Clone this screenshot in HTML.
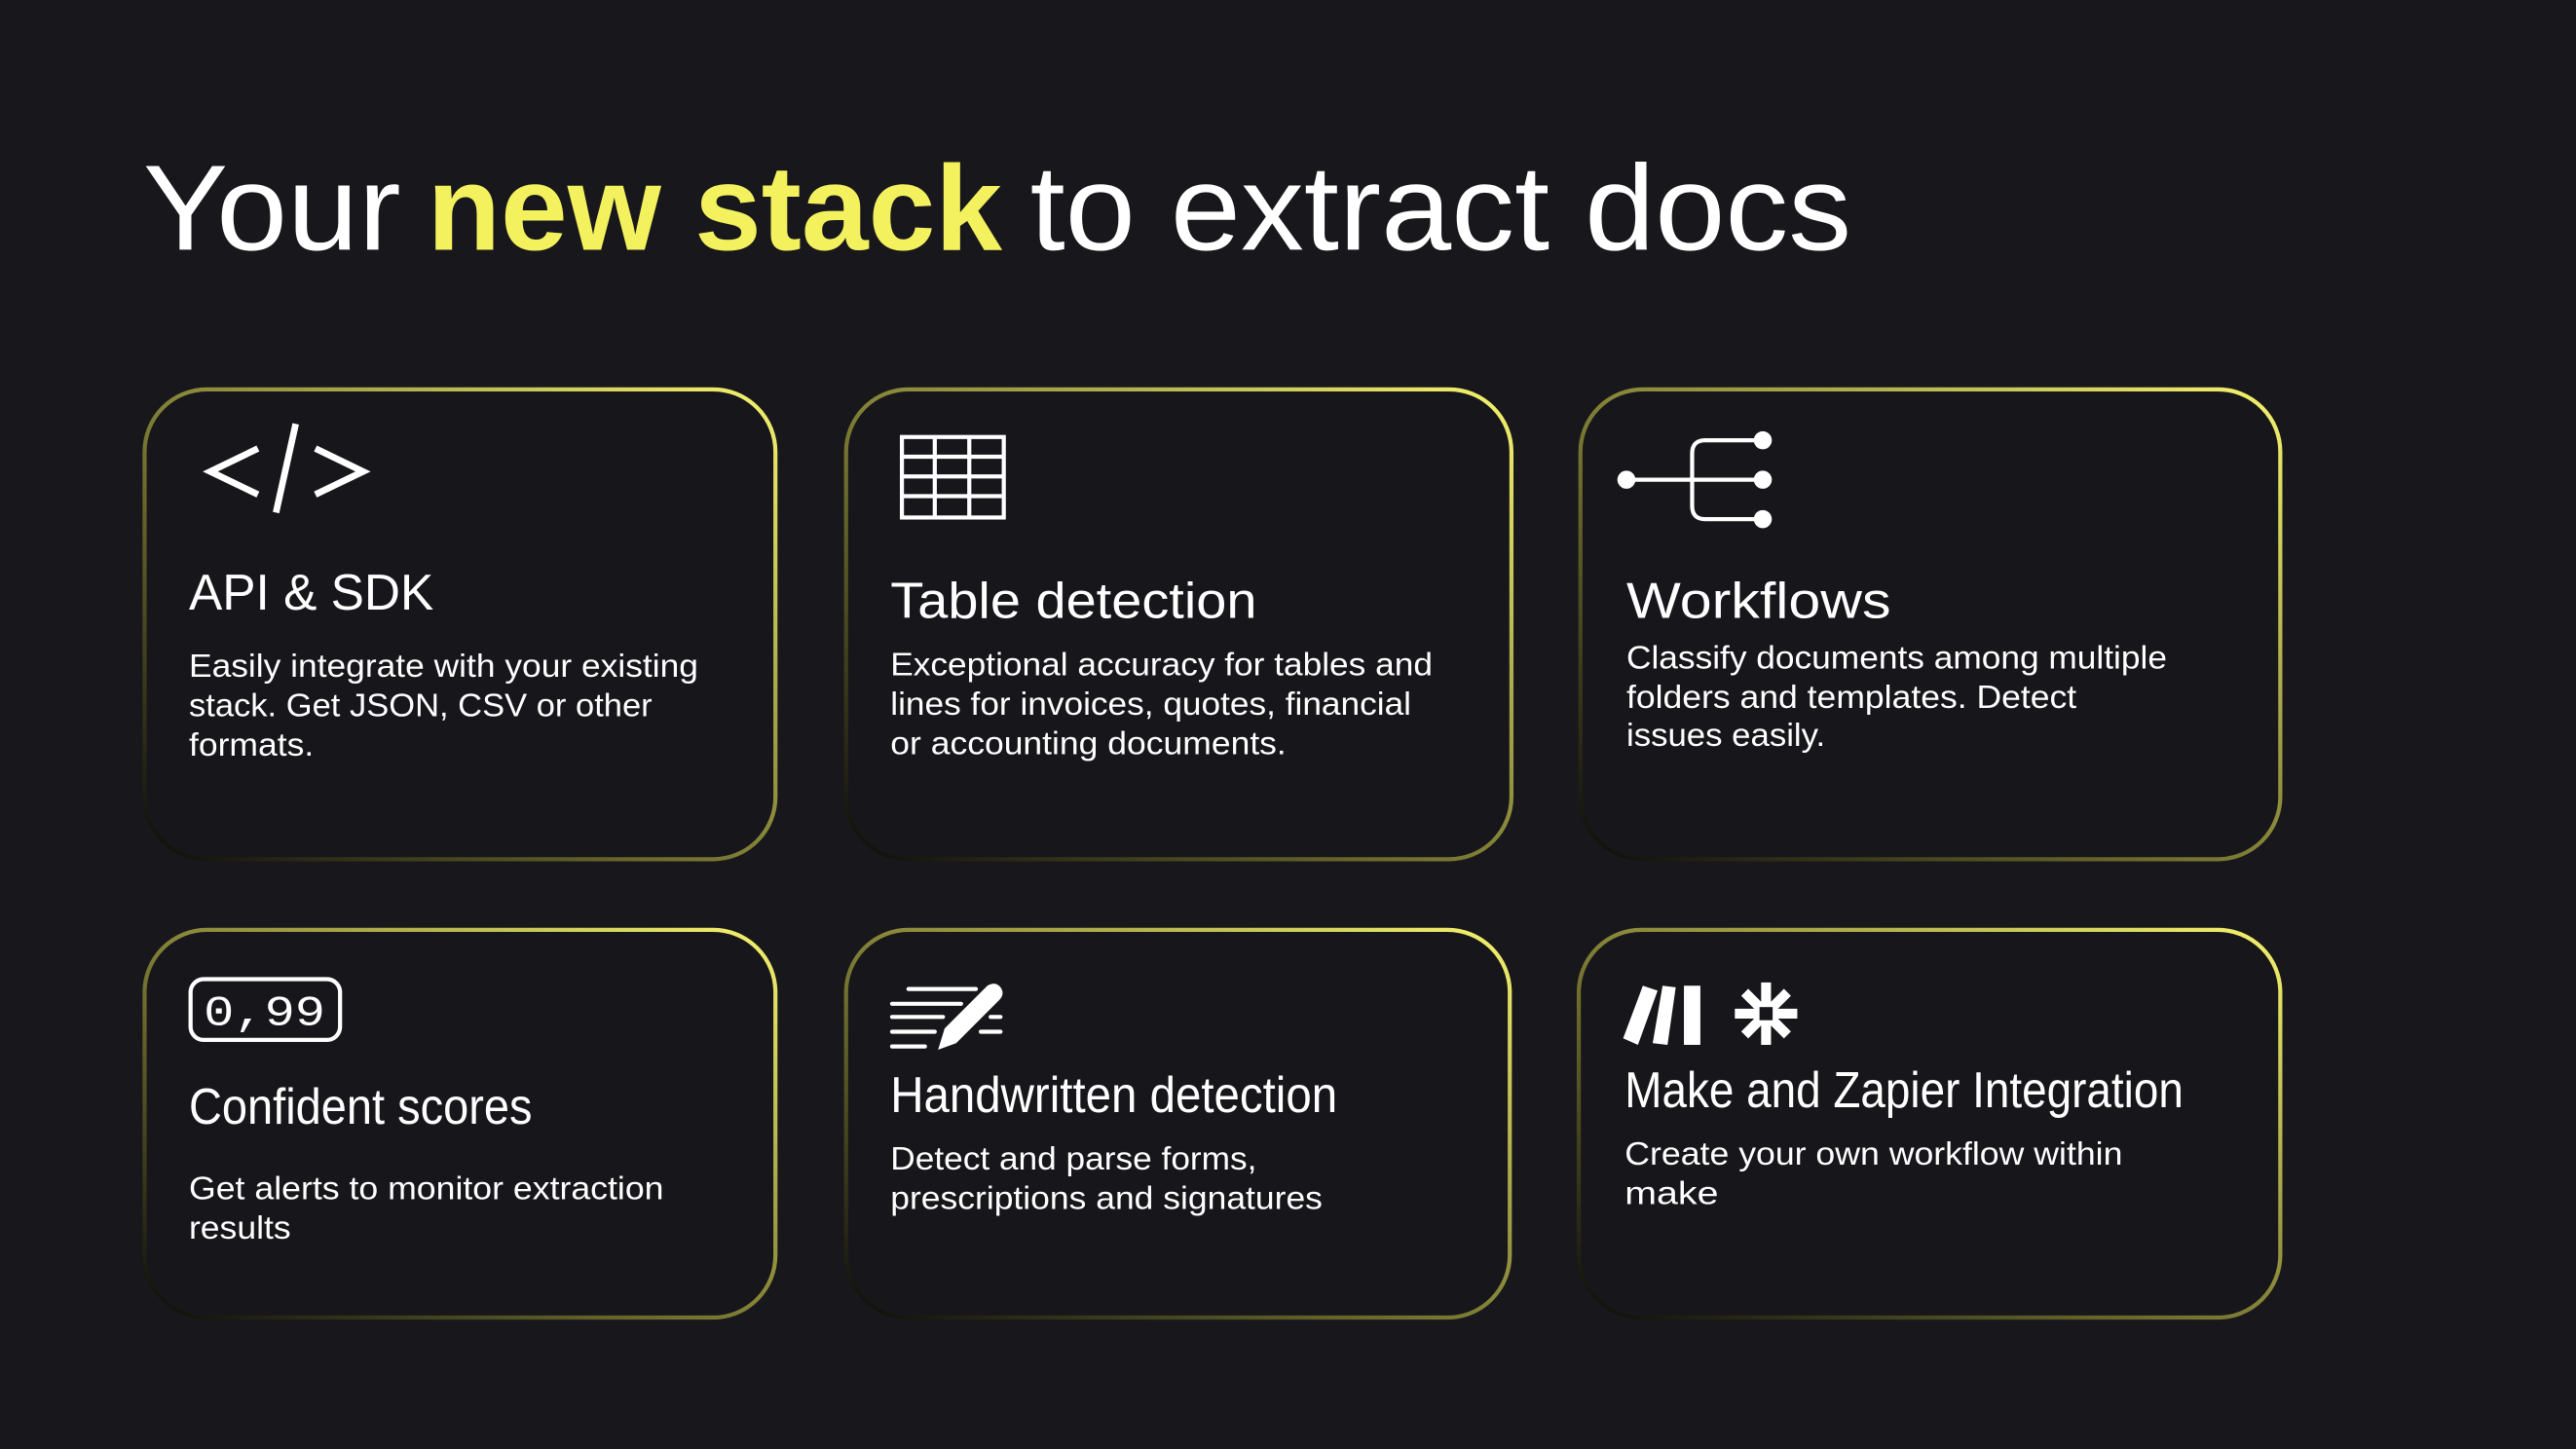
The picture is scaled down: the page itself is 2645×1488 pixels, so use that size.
<!DOCTYPE html>
<html><head><meta charset="utf-8"><style>
html,body{margin:0;padding:0;background:#18181c;}
svg{display:block;}
text{font-family:"Liberation Sans",sans-serif;fill:#fff;}
</style></head><body>
<svg width="2645" height="1488" viewBox="0 0 1568 882" preserveAspectRatio="none" xmlns="http://www.w3.org/2000/svg">
<defs>
<linearGradient id="g" x1="0" y1="1" x2="1" y2="0">
<stop offset="0" stop-color="#0c0c0c"/>
<stop offset="0.4" stop-color="#6c6b2c"/>
<stop offset="1" stop-color="#f6f36e"/>
</linearGradient>
</defs>
<rect width="1568" height="882" fill="#18181c"/>
<text x="87" y="152" font-size="74" textLength="157" lengthAdjust="spacingAndGlyphs">Your</text>
<text x="260" y="152" font-size="74" font-weight="bold" style="fill:#f4f15f" textLength="350" lengthAdjust="spacingAndGlyphs">new stack</text>
<text x="627" y="152" font-size="74" textLength="500" lengthAdjust="spacingAndGlyphs">to extract docs</text>

<g fill="#17171b" stroke="url(#g)" stroke-width="2.5">
<rect x="88" y="237" width="384" height="286" rx="38"/>
<rect x="515" y="237" width="405" height="286" rx="38"/>
<rect x="962" y="237" width="426" height="286" rx="38"/>
<rect x="88" y="566" width="384" height="236" rx="38"/>
<rect x="515" y="566" width="404" height="236" rx="38"/>
<rect x="961" y="566" width="427" height="236" rx="38"/>
</g>

<!-- icons -->
<g stroke="#fff" fill="none" stroke-width="4">
<polyline points="157,273 128,287 157,301"/>
<line x1="180" y1="258" x2="168" y2="312"/>
<polyline points="192,273 221,287 192,301"/>
</g>
<g stroke="#fff" fill="none" stroke-width="2.5">
<rect x="549" y="266" width="62" height="49"/>
<line x1="569" y1="266" x2="569" y2="315"/><line x1="590" y1="266" x2="590" y2="315"/>
<line x1="549" y1="278" x2="611" y2="278"/><line x1="549" y1="290" x2="611" y2="290"/><line x1="549" y1="302" x2="611" y2="302"/>
</g>
<g stroke="#fff" fill="none" stroke-width="2.5">
<line x1="990" y1="292" x2="1073" y2="292"/>
<path d="M1073,268 H1038 Q1030,268 1030,276 V308 Q1030,316 1038,316 H1073"/>
</g>
<g fill="#fff"><circle cx="990" cy="292" r="5.5"/><circle cx="1073" cy="268" r="5.5"/><circle cx="1073" cy="292" r="5.5"/><circle cx="1073" cy="316" r="5.5"/></g>

<rect x="116" y="596" width="91" height="37" rx="8" fill="none" stroke="#fff" stroke-width="2.5"/>
<text x="124" y="624" font-size="26" font-family="Liberation Mono" style="font-family:'Liberation Mono',monospace" textLength="74" lengthAdjust="spacingAndGlyphs">0,99</text>

<g stroke="#fff" stroke-width="2.5" stroke-linecap="round">
<line x1="553" y1="602" x2="594" y2="602"/>
<line x1="543" y1="611" x2="585" y2="611"/>
<line x1="543" y1="619" x2="574" y2="619"/><line x1="603" y1="619" x2="609" y2="619"/>
<line x1="543" y1="628" x2="569" y2="628"/><line x1="597" y1="628" x2="609" y2="628"/>
<line x1="543" y1="637" x2="563" y2="637"/>
</g>
<path d="M571,639 L575,626 L601,600 Q606,597 609,601 Q612,605 608,609 L582,635 Z" fill="#fff"/>

<g fill="#fff">
<polygon points="1000,600 1009,603 997,636 988,632"/>
<polygon points="1012,600 1020,601 1015,636 1006,635"/>
<rect x="1025" y="600" width="10" height="36"/>
</g>
<g stroke="#fff" stroke-width="6">
<line x1="1075" y1="598" x2="1075" y2="636"/>
<line x1="1056" y1="617" x2="1094" y2="617"/>
<line x1="1062" y1="604" x2="1088" y2="630"/>
<line x1="1088" y1="604" x2="1062" y2="630"/>
</g>
<rect x="1071" y="613" width="8" height="8" fill="#17171b"/>

<!-- text -->
<g font-size="31">
<text x="115" y="371" textLength="149" lengthAdjust="spacingAndGlyphs">API &amp; SDK</text>
<text x="542" y="376" textLength="223" lengthAdjust="spacingAndGlyphs">Table detection</text>
<text x="990" y="376" textLength="161" lengthAdjust="spacingAndGlyphs">Workflows</text>
<text x="115" y="684" textLength="209" lengthAdjust="spacingAndGlyphs">Confident scores</text>
<text x="542" y="677" textLength="272" lengthAdjust="spacingAndGlyphs">Handwritten detection</text>
<text x="989" y="674" textLength="340" lengthAdjust="spacingAndGlyphs">Make and Zapier Integration</text>
</g>
<g font-size="20">
<text x="115" y="412" textLength="310" lengthAdjust="spacingAndGlyphs">Easily integrate with your existing</text>
<text x="115" y="436" textLength="282" lengthAdjust="spacingAndGlyphs">stack. Get JSON, CSV or other</text>
<text x="115" y="460" textLength="76" lengthAdjust="spacingAndGlyphs">formats.</text>
<text x="542" y="411" textLength="330" lengthAdjust="spacingAndGlyphs">Exceptional accuracy for tables and</text>
<text x="542" y="435" textLength="317" lengthAdjust="spacingAndGlyphs">lines for invoices, quotes, financial</text>
<text x="542" y="459" textLength="241" lengthAdjust="spacingAndGlyphs">or accounting documents.</text>
<text x="990" y="407" textLength="329" lengthAdjust="spacingAndGlyphs">Classify documents among multiple</text>
<text x="990" y="431" textLength="274" lengthAdjust="spacingAndGlyphs">folders and templates. Detect</text>
<text x="990" y="454" textLength="121" lengthAdjust="spacingAndGlyphs">issues easily.</text>
<text x="115" y="730" textLength="289" lengthAdjust="spacingAndGlyphs">Get alerts to monitor extraction</text>
<text x="115" y="754" textLength="62" lengthAdjust="spacingAndGlyphs">results</text>
<text x="542" y="712" textLength="223" lengthAdjust="spacingAndGlyphs">Detect and parse forms,</text>
<text x="542" y="736" textLength="263" lengthAdjust="spacingAndGlyphs">prescriptions and signatures</text>
<text x="989" y="709" textLength="303" lengthAdjust="spacingAndGlyphs">Create your own workflow within</text>
<text x="989" y="733" textLength="57" lengthAdjust="spacingAndGlyphs">make</text>
</g>
</svg>
</body></html>
